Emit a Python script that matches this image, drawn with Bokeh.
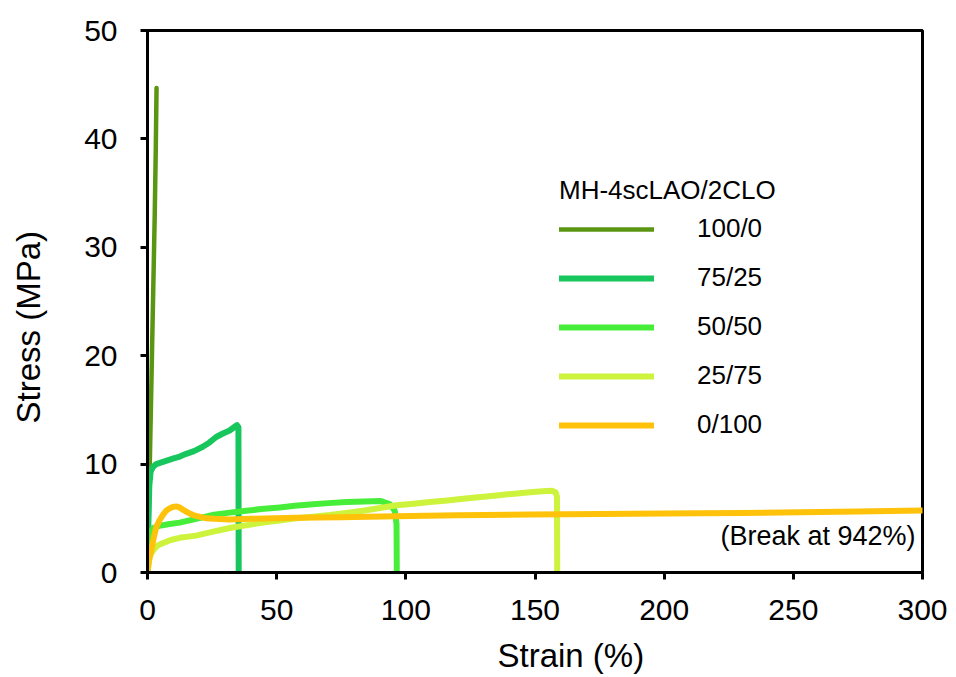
from bokeh.plotting import figure
from bokeh.models import Range1d, FixedTicker, Legend, LegendItem, Label, Title, LinearAxis
from bokeh.embed import file_html
from bokeh.resources import INLINE

# ---- data ----
strain_100_0 = [0, 0.3, 0.8, 1.3, 1.8, 2.3, 2.8, 3.2, 3.5]
stress_100_0 = [0, 3, 9, 15, 21, 27, 33, 39, 44.7]

strain_75_25 = [0, 0.3, 0.7, 1.2, 2.0, 3.4, 6.0, 9.8, 12.5, 15.0, 18.0, 21.4, 24.0, 26.6, 29.0, 31.8, 33.5, 34.6, 35.2, 35.3]
stress_75_25 = [0, 4.0, 8.0, 9.3, 9.7, 10.0, 10.2, 10.5, 10.7, 10.95, 11.2, 11.6, 12.0, 12.5, 12.8, 13.1, 13.4, 13.6, 13.4, 0]

strain_50_50 = [0, 0.4, 0.9, 1.5, 2.2, 4.5, 8.0, 12.4, 18.0, 25.0, 31.0, 38.2, 44.0, 51.2, 57.0, 64.1, 70.0, 77.0, 84.0, 90.0, 93.8, 95.7, 96.4, 96.5]
stress_50_50 = [0, 1.5, 3.0, 3.8, 4.1, 4.3, 4.45, 4.6, 4.9, 5.3, 5.5, 5.7, 5.85, 6.0, 6.15, 6.3, 6.4, 6.5, 6.55, 6.6, 6.3, 5.7, 4.5, 0]

strain_25_75 = [0, 0.3, 0.8, 1.5, 2.7, 4.0, 5.8, 9.0, 12.4, 18.8, 25.0, 31.8, 38.0, 44.7, 51.0, 57.6, 64.0, 70.5, 77.0, 83.4, 90.0, 96.4, 103.0, 109.3, 116.0, 122.2, 128.0, 135.1, 141.0, 148.0, 153.0, 156.4, 158.0, 158.5, 158.6]
stress_25_75 = [0, 0.6, 1.4, 1.8, 2.2, 2.5, 2.7, 3.0, 3.2, 3.4, 3.75, 4.1, 4.35, 4.6, 4.8, 5.0, 5.15, 5.3, 5.5, 5.7, 5.95, 6.2, 6.35, 6.5, 6.65, 6.8, 6.95, 7.1, 7.25, 7.4, 7.5, 7.55, 7.4, 7.0, 0]

strain_0_100 = [0, 0.5, 1.4, 2.4, 3.4, 4.6, 5.9, 7.2, 8.5, 9.8, 11.1, 12.4, 13.7, 15.5, 17.6, 20.0, 22.7, 26.0, 31.8, 40.0, 57.6, 75.0, 96.4, 120.0, 148.0, 175.2, 200.0, 213.9, 230.0, 252.7, 275.0, 300.0]
stress_0_100 = [0, 1.0, 2.0, 3.2, 4.2, 4.8, 5.3, 5.7, 5.9, 6.05, 6.1, 6.0, 5.8, 5.55, 5.3, 5.15, 5.0, 4.95, 4.9, 4.95, 5.05, 5.1, 5.2, 5.28, 5.35, 5.4, 5.44, 5.47, 5.5, 5.56, 5.63, 5.72]

series_labels = ["100/0", "75/25", "50/50", "25/75", "0/100"]
series_colors = ["#5b9612", "#17c65c", "#46ee3a", "#cdf33c", "#ffc20a"]
x_ticks = [0, 50, 100, 150, 200, 250, 300]
y_ticks = [0, 10, 20, 30, 40, 50]

legend_title = "MH-4scLAO/2CLO"
note_text = "(Break at 942%)"
x_label = "Strain (%)"
y_label = "Stress (MPa)"

FONT = "Liberation Sans"

p = figure(width=956, height=677, output_backend="svg", toolbar_location=None,
           x_range=Range1d(0, 300), y_range=Range1d(0, 50),
           min_border_left=147, min_border_right=34, min_border_top=30, min_border_bottom=105)
p.background_fill_color = "white"
p.border_fill_color = "white"
p.xgrid.visible = False
p.ygrid.visible = False
p.outline_line_color = "black"
p.outline_line_width = 3

for ax, ticks in ((p.xaxis, x_ticks), (p.yaxis, y_ticks)):
    ax.ticker = FixedTicker(ticks=ticks)
    ax.axis_line_width = 3
    ax.axis_line_color = "black"
    ax.major_tick_line_width = 3
    ax.major_tick_line_color = "black"
    ax.major_tick_in = 0
    ax.major_tick_out = 7
    ax.minor_tick_line_color = None
    ax.major_label_text_font = FONT
    ax.major_label_text_font_size = "30px"
    ax.major_label_text_color = "black"
p.xaxis.major_label_standoff = 20
p.yaxis.major_label_standoff = 23

xs = [strain_100_0, strain_75_25, strain_50_50, strain_25_75, strain_0_100]
ys = [stress_100_0, stress_75_25, stress_50_50, stress_25_75, stress_0_100]
widths = [4.5, 6, 6, 6, 6]

items = []
for x, y, lab, col, w in zip(xs, ys, series_labels, series_colors, widths):
    r = p.line(x, y, line_color=col, line_width=w, line_join="round", line_cap="round")
    items.append(LegendItem(label=lab, renderers=[r]))

legend = Legend(items=items, location=(412, 132), title=legend_title,
                title_text_font=FONT, title_text_font_size="26px", title_text_font_style="normal",
                title_text_color="black", title_standoff=7,
                label_text_font=FONT, label_text_font_size="26px", label_text_color="black",
                label_standoff=43, glyph_width=95, glyph_height=30, label_height=30,
                spacing=18, padding=0, margin=0,
                background_fill_alpha=0, border_line_alpha=0)
p.add_layout(legend, "center")

p.add_layout(Label(x=300, y=3.4, x_offset=-7, text=note_text, text_align="right",
                   text_baseline="middle", text_font=FONT, text_font_size="27px",
                   text_color="black"))


def spacer_axis(tick, size):
    # blank axis (white tick, empty label) used only to reserve space before the axis title
    return LinearAxis(ticker=FixedTicker(ticks=[tick]), major_label_overrides={tick: ""},
                      major_tick_out=size, major_tick_in=0,
                      major_label_standoff=0, major_label_text_font_size="1px",
                      axis_line_color=None,
                      major_tick_line_color="white", major_tick_line_width=1,
                      minor_tick_line_color=None, minor_tick_out=0)


p.add_layout(spacer_axis(x_ticks[3], 11), "below")
p.add_layout(spacer_axis(y_ticks[2], 33), "left")

# axis titles (off-centre as in the reference)
p.add_layout(Title(text=x_label, align="left", offset=350, standoff=2,
                   text_font=FONT, text_font_size="33px", text_font_style="normal",
                   text_color="black"), "below")
p.add_layout(Title(text=y_label, align="left", offset=149, standoff=4,
                   text_font=FONT, text_font_size="33px", text_font_style="normal",
                   text_color="black"), "left")

open("out.html", "w").write(file_html(p, INLINE))
